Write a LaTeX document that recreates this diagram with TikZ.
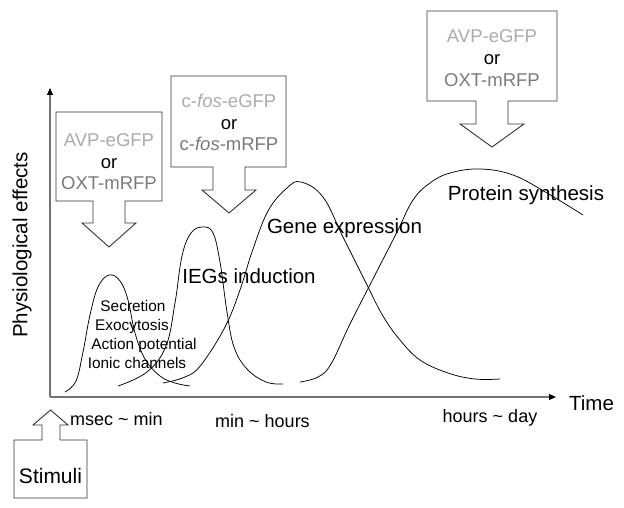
\documentclass[tikz,border=0pt]{standalone}
\usepackage{fontspec}
\setmainfont{Liberation Sans}
\usetikzlibrary{arrows.meta}
\begin{document}
\begin{tikzpicture}[x=1pt,y=-1pt,
  curve/.style={line width=0.75pt, black, line join=round},
  axis/.style={draw=black!55, line width=1.1pt, -{Triangle[length=7pt,width=6pt,color=black]}},
  callout/.style={draw=black!80, line width=0.9pt, fill=white, line join=miter},
  big/.style={inner sep=0pt, anchor=center, text height=14.8pt, text depth=0pt, font=\fontsize{20.5}{24}\selectfont},
  mid/.style={inner sep=0pt, anchor=center, text height=13pt, text depth=0pt, font=\fontsize{18}{22}\selectfont},
  small/.style={inner sep=0pt, anchor=center, text height=11.1pt, text depth=0pt, font=\fontsize{15.4}{18}\selectfont},
  boxt/.style={inner sep=0pt, anchor=center, text height=13.3pt, text depth=0pt, font=\fontsize{18.5}{22}\selectfont},
  lightg/.style={text=black!33},
  midg/.style={text=black!52}]
\useasboundingbox (0,0) rectangle (624,508);

% axes
\coordinate (O) at (50,397);
\coordinate (Ytop) at (50,88);
\coordinate (Xend) at (556,397);
\draw[axis] (O) -- (Ytop);
\draw[axis] (O) -- (Xend);

% curves
\draw[curve] plot[smooth, tension=0.65] coordinates {(65,392) (76,381) (83,352) (90,315) (98,287) (109,275) (120,281) (128,300) (135,333) (145,359) (160,376) (175,383) (190,386)};
\draw[curve] plot[smooth, tension=0.65] coordinates {(118,386) (147,372) (166,346) (175,303) (182,256) (191,233) (203,227) (213,233) (220,262) (227,312) (234,347) (247,369) (266,382) (283,384)};
\draw[curve] plot[smooth, tension=0.65] coordinates {(163,383) (185,377) (201,365) (225,327) (240,290) (252,252) (268,211) (287,188) (301,182) (323,197) (343,237) (367,285) (383,316) (400,340) (420,360) (448,373) (475,379) (500,379)};
\draw[curve] plot[smooth, tension=0.65] coordinates {(300,382) (318,377) (331,364) (350,324) (375,275) (397,232) (413,200) (430,183) (450,173) (480,169) (513,175) (547,193) (583,215)};

% callout 1 (left)
\draw[callout] (56,112) -- (162,112) -- (162,201) -- (125,201) -- (125,223) -- (136,223) -- (109,247) -- (82,223) -- (93,223) -- (93,201) -- (56,201) -- cycle;
\node[boxt, lightg] (a1) at (109,140) {AVP-eGFP};
\node[boxt] (a2) at (109,162) {or};
\node[boxt, midg] (a3) at (109,183) {OXT-mRFP};

% callout 2 (middle)
\draw[callout] (171,76) -- (286,76) -- (286,167) -- (245,167) -- (245,190) -- (256,190) -- (229,213) -- (202,190) -- (213,190) -- (213,167) -- (171,167) -- cycle;
\node[boxt, lightg] (b1) at (229,101) {c-\textit{fos}-eGFP};
\node[boxt] (b2) at (229,123) {or};
\node[boxt, midg] (b3) at (229,144) {c-\textit{fos}-mRFP};

% callout 3 (right)
\draw[callout] (427,11) -- (557,11) -- (557,101) -- (508,101) -- (508,124) -- (524,124) -- (492,147) -- (460,124) -- (476,124) -- (476,101) -- (427,101) -- cycle;
\node[boxt, lightg] (c1) at (492,36) {AVP-eGFP};
\node[boxt] (c2) at (492,58) {or};
\node[boxt, midg] (c3) at (492,80) {OXT-mRFP};

% stimuli callout
\draw[callout] (14,440) -- (42,440) -- (42,425) -- (33,425) -- (50.5,410) -- (68,425) -- (60,425) -- (60,440) -- (87,440) -- (87,498) -- (14,498) -- cycle;
\node[big, font=\fontsize{21}{24}\selectfont, text height=15.1pt] (stim) at (50.5,476) {Stimuli};

% labels
\node[big, rotate=90] (ylab) at (20,245) {Physiological effects};
\node[big, text height=14pt] (time) at (591.5,403) {Time};
\node[mid] (t1) at (116.5,419) {msec \textasciitilde{} min};
\node[mid] (t2) at (262.5,421) {min \textasciitilde{} hours};
\node[mid] (t3) at (490,416) {hours \textasciitilde{} day};

\node[big] (ieg) at (249,276) {IEGs induction};
\node[big] (gene) at (344.5,226) {Gene expression};
\node[big] (prot) at (526,193) {Protein synthesis};

\node[small] (s1) at (133,306) {Secretion};
\node[small] (s2) at (132,325) {Exocytosis};
\node[small] (s3) at (144,344) {Action potential};
\node[small] (s4) at (137,363) {Ionic channels};
\end{tikzpicture}
\end{document}
